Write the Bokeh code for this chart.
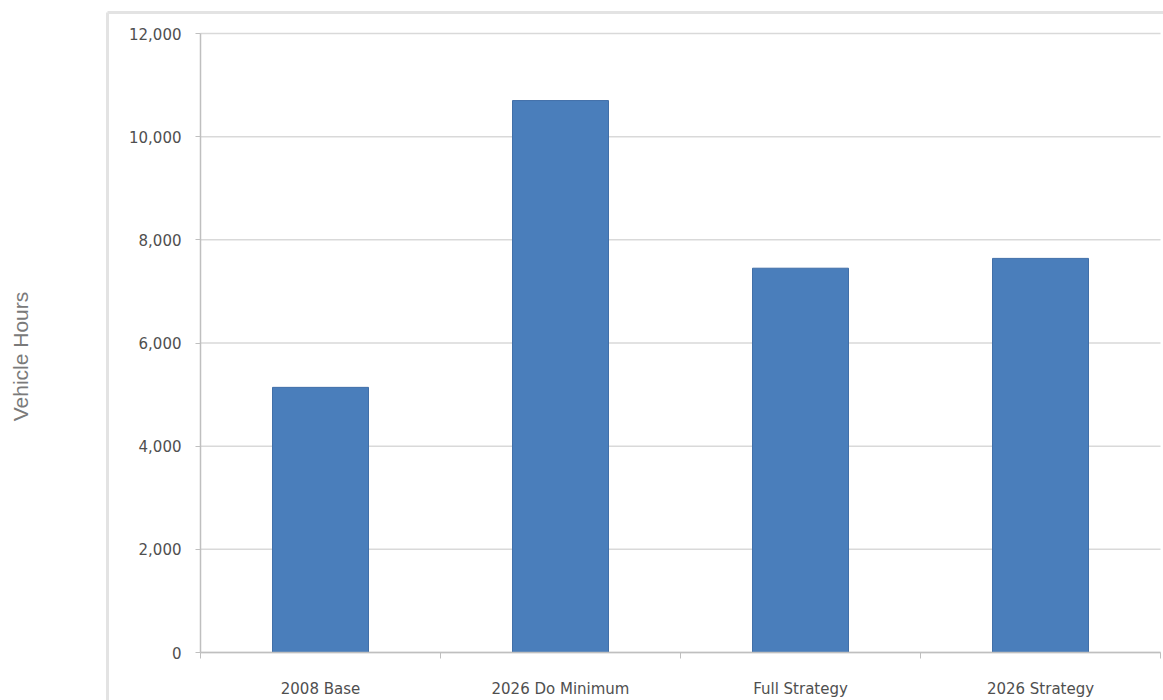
from bokeh.plotting import figure
from bokeh.models import Range1d, LinearAxis, FixedTicker, NumeralTickFormatter
from bokeh.embed import file_html
from bokeh.resources import INLINE

# ---- data -------------------------------------------------------------
categories = ["2008 Base", "2026 Do Minimum", "Full Strategy", "2026 Strategy"]
vehicle_hours = [5140, 10700, 7450, 7640]
y_ticks = [0, 2000, 4000, 6000, 8000, 10000, 12000]
y_title = "Vehicle Hours"

# ---- layout (screen pixels) ------------------------------------------
W, H = 1163, 700
FRAME_L, FRAME_T = 107, 12          # outer chart-area border
AXIS_X = 200                        # where the value axis sits
ZERO_Y, TOP_Y = 652, 33             # screen rows of 0 and of the top tick
SLOT = 240                          # width of one category slot

n = len(categories)
ymax = y_ticks[-1]
units_per_px = ymax / (ZERO_Y - TOP_Y)
y_start = -(H - ZERO_Y) * units_per_px
y_end = ymax + (TOP_Y - FRAME_T) * units_per_px
x_start = (FRAME_L - AXIS_X) / SLOT
x_end = (W - AXIS_X) / SLOT

TICK_FONT = "DejaVu Sans"
TICK_SIZE = "15px"
TICK_COLOR = "#4f4f4f"
AXIS_COLOR = "#bfbfbf"
GRID_COLOR = "#d9d9d9"
EDGE_COLOR = "#e3e3e3"

p = figure(
    width=W, height=H,
    x_range=Range1d(x_start, x_end), y_range=Range1d(y_start, y_end),
    x_axis_type=None, y_axis_type=None,
    toolbar_location=None, output_backend="svg",
    min_border_left=FRAME_L, min_border_top=FRAME_T,
    min_border_right=0, min_border_bottom=0,
)
p.outline_line_color = None
p.background_fill_color = "white"
p.border_fill_color = "white"

# horizontal gridlines across the category slots
p.segment(x0=[0] * len(y_ticks), x1=[n] * len(y_ticks), y0=y_ticks, y1=y_ticks,
          line_color=GRID_COLOR, line_width=1.5)

# bars
centers = [i + 0.5 for i in range(n)]
p.vbar(x=centers, top=vehicle_hours, width=0.4, bottom=0,
       fill_color="#4a7ebb", line_color="#416fa8", line_width=1)

# value axis, pinned at x = 0
yaxis = LinearAxis(
    fixed_location=0, bounds=(0, ymax),
    ticker=FixedTicker(ticks=y_ticks, minor_ticks=[]),
    formatter=NumeralTickFormatter(format="0,0"),
    axis_line_color=AXIS_COLOR, axis_line_width=1.5,
    major_tick_line_color=AXIS_COLOR, major_tick_out=5, major_tick_in=0,
    minor_tick_line_color=None,
    major_label_standoff=14,
    major_label_text_font=TICK_FONT, major_label_text_font_size=TICK_SIZE,
    major_label_text_color=TICK_COLOR,
)
p.add_layout(yaxis, "left")

# category axis, pinned at y = 0; ticks mark slot boundaries
xaxis = LinearAxis(
    fixed_location=0, bounds=(0, n),
    ticker=FixedTicker(ticks=centers, minor_ticks=list(range(n + 1))),
    major_label_overrides={c: lab for c, lab in zip(centers, categories)},
    axis_line_color=AXIS_COLOR, axis_line_width=1.5,
    major_tick_line_color=None, major_tick_out=0, major_tick_in=0,
    minor_tick_line_color=AXIS_COLOR, minor_tick_out=6, minor_tick_in=0,
    major_label_standoff=21,
    major_label_text_font=TICK_FONT, major_label_text_font_size=TICK_SIZE,
    major_label_text_color=TICK_COLOR,
)
p.add_layout(xaxis, "below")

# chart-area border on the left (carries the axis title) and on top
edge_left = LinearAxis(
    ticker=FixedTicker(ticks=[], minor_ticks=[]),
    axis_line_color=EDGE_COLOR, axis_line_width=3,
    major_tick_out=0, major_tick_in=0, major_label_standoff=0,
    axis_label=y_title, axis_label_standoff=76,
    axis_label_text_font="Liberation Sans", axis_label_text_font_size="21px",
    axis_label_text_font_style="normal", axis_label_text_color="#7a7a7a",
)
p.add_layout(edge_left, "left")

edge_top = LinearAxis(
    ticker=FixedTicker(ticks=[], minor_ticks=[]),
    axis_line_color=EDGE_COLOR, axis_line_width=3,
    major_tick_out=0, major_tick_in=0, major_label_standoff=0,
    axis_label_standoff=0,
)
p.add_layout(edge_top, "above")

open("out.html", "w").write(file_html(p, INLINE))
